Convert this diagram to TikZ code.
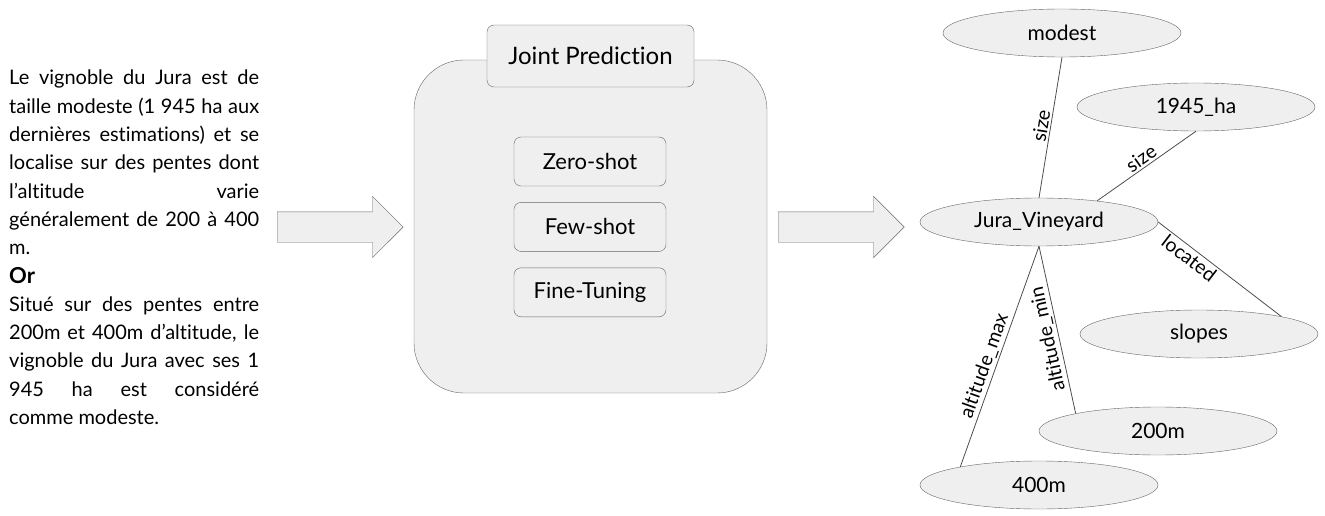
\documentclass[tikz,border=0pt]{standalone}
\usepackage{fontspec}
\setmainfont{Lato}[Ligatures=NoCommon]
\usetikzlibrary{positioning, shapes.geometric, shapes.arrows}
\definecolor{panelfill}{HTML}{EFEFEF}
\definecolor{edgegray}{HTML}{666666}
\definecolor{linkgray}{HTML}{4D4D4D}

\begin{document}
\begin{tikzpicture}[x=1pt, y=-1pt,
    entity/.style={draw=edgegray, fill=panelfill, ellipse, minimum width=238pt, minimum height=48pt, inner sep=0pt, font=\fontsize{21}{24}\selectfont},
    method/.style={draw=edgegray, fill=panelfill, rounded corners=7pt, minimum width=152pt, minimum height=49pt, font=\fontsize{22}{26}\selectfont},
    bigarrow/.style={single arrow, draw=edgegray, fill=panelfill, anchor=west, minimum height=126pt, inner xsep=0pt, inner ysep=15pt, single arrow head extend=15.5pt},
    rel/.style={draw=linkgray, line width=0.8pt},
    rlabel/.style={sloped, allow upside down, above, inner sep=2pt, font=\fontsize{19.5}{22}\selectfont}
  ]
  \useasboundingbox (0,0) rectangle (1325,516);

  % input sentences
  \node[anchor=north west, inner sep=0pt, text width=250pt, align=justify,
    font=\fontsize{20}{28.3}\selectfont] (source) at (9,70) {%
    Le vignoble du Jura est de\linebreak
    taille modeste (1 945 ha aux\linebreak
    dernières estimations) et se\linebreak
    localise sur des pentes dont\linebreak
    l’altitude varie\linebreak
    généralement de 200 à 400\linebreak
    m.\par
    {\fontsize{22}{28.3}\selectfont\bfseries Or\par}
    Situé sur des pentes entre\linebreak
    200m et 400m d'altitude, le\linebreak
    vignoble du Jura avec ses 1\linebreak
    945 ha est considéré\linebreak
    comme modeste.\par};

  \node[bigarrow] (arrin) at (277,227) {};

  % prediction panel
  \node[draw=edgegray, fill=panelfill, rounded corners=50pt, minimum width=353pt, minimum height=333pt] (panel) at (590.5,226.5) {};
  \node[method, minimum width=207pt, minimum height=62pt, font=\fontsize{24}{28}\selectfont] (joint) at (590.5,56) {Joint Prediction};
  \node[method] (zero) at (590,161.5) {Zero-shot};
  \node[method, below=16pt of zero] (few) {Few-shot};
  \node[method, below=16pt of few] (fine) {Fine-Tuning};

  \node[bigarrow] (arrout) at (778,227) {};

  % output graph
  \node[entity] (modest) at (1062,33) {modest};
  \node[entity] (ha) at (1196,107) {1945\_ha};
  \node[entity] (jura) at (1039,222) {Jura\_Vineyard};
  \node[entity] (slopes) at (1199,334) {slopes};
  \node[entity] (m200) at (1158,431) {200m};
  \node[entity] (m400) at (1039,485) {400m};

  \draw[rel] (jura.north) -- node[rlabel] {size} (modest.south);
  \draw[rel] (jura.20) -- node[rlabel] {size} (ha.south);
  \draw[rel] (jura.east) -- node[rlabel, below, pos=.3] {located} (slopes.12);
  \draw[rel] (m200.168) -- node[rlabel, pos=.46] {altitude\_min} (jura.south);
  \draw[rel] (m400.167) -- node[rlabel, pos=.44] {altitude\_max} (jura.south);
\end{tikzpicture}
\end{document}
